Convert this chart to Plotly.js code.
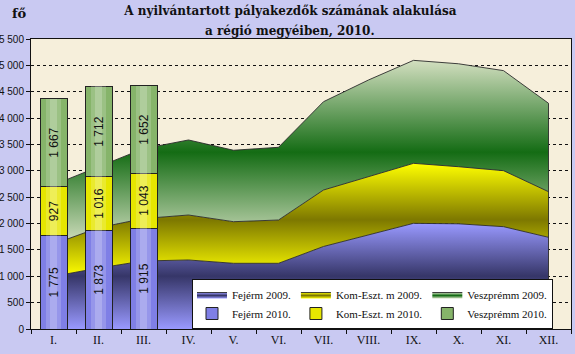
<!DOCTYPE html>
<html>
<head>
<meta charset="utf-8">
<script src="https://cdn.plot.ly/plotly-3.0.1.min.js"></script>
<style>html,body{margin:0;padding:0;background:#c9c9f2;}#chart{width:575px;height:354px;}</style>
</head>
<body>
<div id="chart"></div>
<script>
// Categories (months)
const months = ['I.', 'II.', 'III.', 'IV.', 'V.', 'VI.', 'VII.', 'VIII.', 'IX.', 'X.', 'XI.', 'XII.'];
const months2010 = ['I.', 'II.', 'III.'];

// 2009 series (areas, stacked)
const fejer2009 = [1000, 1155, 1290, 1309, 1246, 1246, 1565, 1785, 2004, 1995, 1941, 1739];
const komEszt2009 = [610, 765, 805, 853, 789, 821, 1071, 1104, 1138, 1083, 1062, 865];
const veszprem2009 = [1123, 1160, 1325, 1423, 1355, 1379, 1675, 1834, 1953, 1952, 1897, 1677];

// 2010 series (stacked bars)
const fejer2010 = [1775, 1873, 1915];
const komEszt2010 = [927, 1016, 1043];
const veszprem2010 = [1667, 1712, 1652];

const names = {
  fej09: 'Fejérm 2009.', kom09: 'Kom-Eszt. m 2009.', vesz09: 'Veszprémm 2009.',
  fej10: 'Fejérm 2010.', kom10: 'Kom-Eszt. m 2010.', vesz10: 'Veszprémm 2010.'
};

function sum(a, b) { return a.map((v, i) => v + b[i]); }
const cumFej = fejer2009;
const cumKom = sum(cumFej, komEszt2009);
const cumVesz = sum(cumKom, veszprem2009);

function area(y, name, group, light, dark, start, stop) {
  return {
    type: 'scatter', mode: 'lines', x: months, y: y, name: name,
    legendgroup: group, stackgroup: 'y2009',
    line: {color: '#2a2a2a', width: 0.9},
    fillcolor: dark,
    fillgradient: {type: 'vertical', start: start, stop: stop,
      colorscale: [[0, light], [0.5, dark], [1, light]]},
    hoverinfo: 'skip'
  };
}

// closing edge of the 2009 area at the last month
const lastIdx = months.length - 1;
const edgeTrace = {
  type: 'scatter', mode: 'lines', x: [months[lastIdx], months[lastIdx]],
  y: [0, cumVesz[lastIdx]], showlegend: false, hoverinfo: 'skip',
  line: {color: '#2a2a2a', width: 0.9}
};

const lineColor = '#222';
function bar(y, name, group, color) {
  return {
    type: 'bar', x: months2010, y: y, name: name, legendgroup: group,
    xaxis: 'x', yaxis: 'y2', textposition: 'none',
    marker: {color: color, line: {color: lineColor, width: 1}},
    hoverinfo: 'skip'
  };
}
// cylinder highlight (same data, narrower, translucent white)
function shine(y, axis, w, alpha) {
  return {
    type: 'bar', x: months2010, y: y, xaxis: 'x', yaxis: axis, width: w,
    showlegend: false, hoverinfo: 'skip', textposition: 'none',
    marker: {color: 'rgba(255,255,255,' + alpha + ')', line: {width: 0}}
  };
}
// value labels, drawn on top
function labels(y) {
  return {
    type: 'bar', x: months2010, y: y, xaxis: 'x', yaxis: 'y5',
    showlegend: false, hoverinfo: 'skip',
    marker: {color: 'rgba(0,0,0,0)', line: {width: 0}},
    texttemplate: '%{y:,d}', textposition: 'inside', insidetextanchor: 'middle',
    textangle: -90,
    textfont: {family: 'Liberation Sans, Arial, sans-serif', size: 12, color: '#111'}
  };
}

const data = [
  area(fejer2009, names.fej09, 'fej', '#9999ff', '#363668', 0, Math.max(...cumFej)),
  area(komEszt2009, names.kom09, 'kom', '#ffff00', '#7d7800', Math.min(...cumFej), Math.max(...cumKom)),
  area(veszprem2009, names.vesz09, 'vesz', '#d3dfc0', '#146c14', Math.min(...cumKom), Math.max(...cumVesz)),
  edgeTrace,
  bar(fejer2010, names.fej10, 'fej', '#7f7fe6'),
  bar(komEszt2010, names.kom10, 'kom', '#e6e600'),
  bar(veszprem2010, names.vesz10, 'vesz', '#86b46a'),
  shine(fejer2010, 'y3', 0.34, 0.18),
  shine(komEszt2010, 'y3', 0.34, 0.18),
  shine(veszprem2010, 'y3', 0.34, 0.18),
  shine(fejer2010, 'y4', 0.16, 0.2),
  shine(komEszt2010, 'y4', 0.16, 0.2),
  shine(veszprem2010, 'y4', 0.16, 0.2),
  labels(fejer2010),
  labels(komEszt2010),
  labels(veszprem2010)
];

const hiddenY = {range: [0, 5500], visible: false, fixedrange: true, showgrid: false, zeroline: false, overlaying: 'y'};

const layout = {
  width: 575, height: 354,
  margin: {l: 31, r: 4, t: 39, b: 25, pad: 0},
  paper_bgcolor: '#c9c9f2',
  plot_bgcolor: '#f6efdb',
  separators: ', ',
  barmode: 'stack',
  bargap: 0.4,
  showlegend: true,
  hovermode: false,
  title: {
    text: 'A nyilvántartott pályakezdők számának alakulása',
    font: {family: 'DejaVu Serif, serif', size: 12, color: '#111', weight: 'bold'},
    x: 0.505, xanchor: 'center', y: 1 - 11 / 354, yanchor: 'middle', yref: 'container'
  },
  annotations: [
    {text: 'a régió megyéiben, 2010.', xref: 'paper', yref: 'paper',
     x: (290 - 31) / 540, y: (329 - 31) / 290, xanchor: 'center', yanchor: 'middle',
     showarrow: false, font: {family: 'DejaVu Serif, serif', size: 12, color: '#111', weight: 'bold'}},
    {text: 'fő', xref: 'paper', yref: 'paper',
     x: (19 - 31) / 540, y: (329 - 14) / 290, xanchor: 'center', yanchor: 'middle',
     showarrow: false, font: {family: 'DejaVu Serif, serif', size: 13, color: '#111', weight: 'bold'}}
  ],
  xaxis: {
    type: 'category', categoryorder: 'array', categoryarray: months,
    range: [-0.5, 11.5], fixedrange: true,
    showline: true, linecolor: '#111', linewidth: 1, mirror: true,
    ticks: 'outside', tickson: 'boundaries', ticklen: 4, tickcolor: '#111',
    showgrid: false, zeroline: false,
    tickfont: {family: 'Liberation Serif, Times New Roman, serif', size: 12, color: '#111'}
  },
  yaxis: {
    range: [0, 5500], dtick: 500, tick0: 0, tickformat: ',d', fixedrange: true,
    showline: true, linecolor: '#111', linewidth: 1, mirror: true,
    ticks: 'outside', ticklen: 4, tickcolor: '#111',
    showgrid: true, gridcolor: '#111', gridwidth: 1, griddash: '3px,3px',
    zeroline: false,
    tickfont: {family: 'Liberation Sans, Arial, sans-serif', size: 10, color: '#111'}
  },
  yaxis2: Object.assign({}, hiddenY),
  yaxis3: Object.assign({}, hiddenY),
  yaxis4: Object.assign({}, hiddenY),
  yaxis5: Object.assign({}, hiddenY),
  legend: {
    orientation: 'h', traceorder: 'grouped', tracegroupgap: 0,
    x: (192 - 31) / 540, xanchor: 'left',
    y: (329 - 304) / 290, yanchor: 'middle',
    bgcolor: '#ffffff', bordercolor: '#111', borderwidth: 1,
    font: {family: 'Liberation Serif, Times New Roman, serif', size: 11, color: '#111'},
    itemwidth: 30
  }
};

Plotly.newPlot('chart', data, layout, {staticPlot: true, displayModeBar: false});
</script>
</body>
</html>
